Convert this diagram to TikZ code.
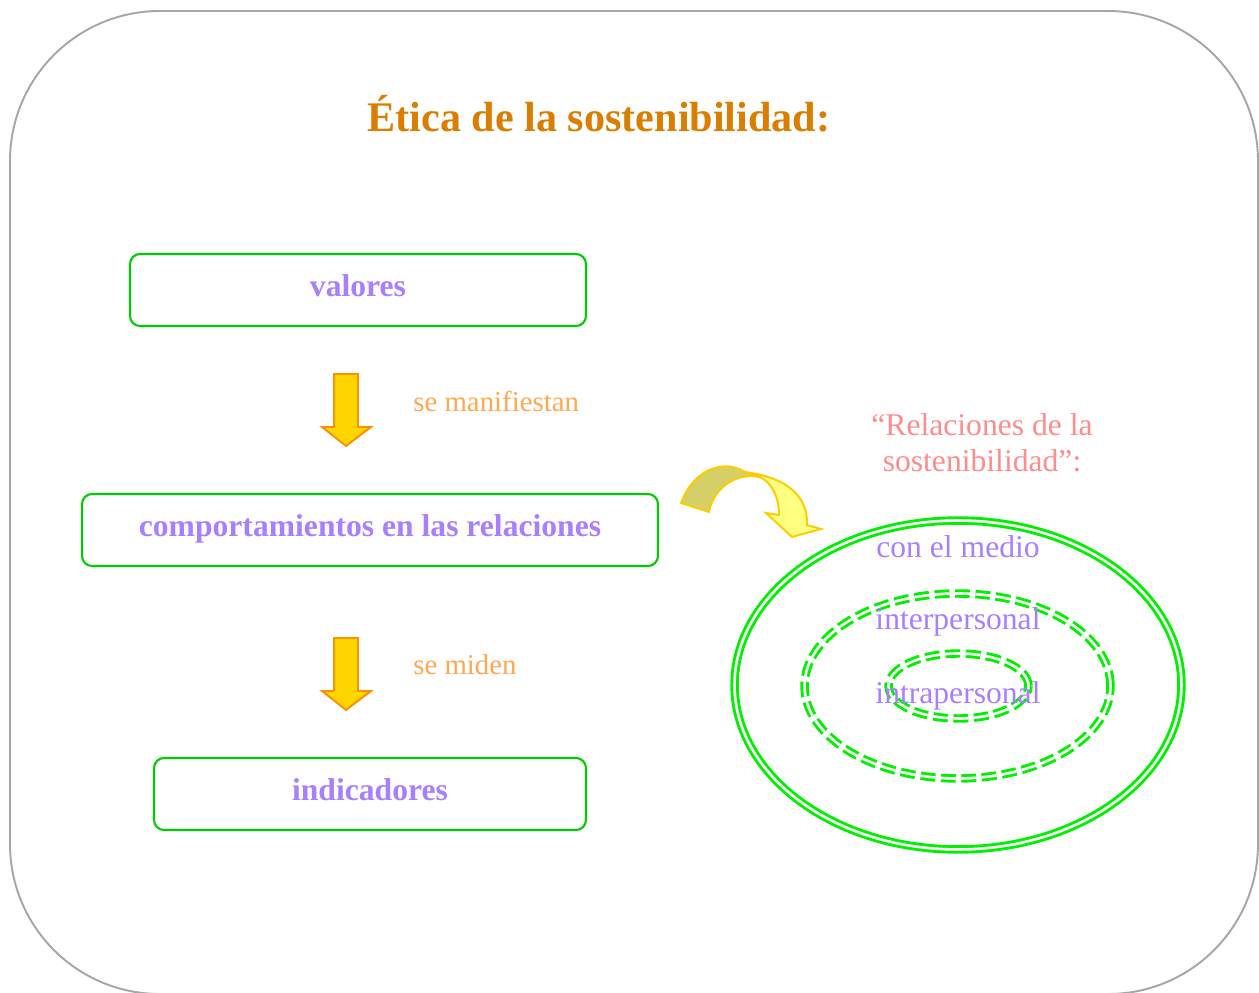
\documentclass[tikz,border=0pt]{standalone}
\usepackage{fontspec}
\setmainfont{Liberation Serif}
\definecolor{framegray}{HTML}{A6A6A6}
\definecolor{titleorange}{HTML}{D97E00}
\definecolor{boxgreen}{HTML}{00CC00}
\definecolor{ringgreen}{HTML}{00F000}
\definecolor{lilac}{HTML}{A87FFF}
\definecolor{lightorange}{HTML}{FFA850}
\definecolor{pinkish}{HTML}{FF8C8C}
\definecolor{goldfill}{HTML}{FFD500}
\definecolor{arroworange}{HTML}{FF9000}
\definecolor{olive}{HTML}{D4CF66}
\definecolor{paleyellow}{HTML}{FFFF80}
\definecolor{goldline}{HTML}{FFCC00}
\tikzset{
  box/.style={draw=boxgreen, line width=1.2pt, rounded corners=0.2cm, inner sep=0pt, text height=12.4pt, text depth=5pt},
  boxtext/.style={text=lilac, font=\fontsize{18}{20.4}\selectfont\bfseries},
  plain/.style={inner sep=0pt, font=\fontsize{18}{20.4}\selectfont},
  downarrow/.style={fill=goldfill, draw=arroworange, line width=1.1pt, line join=miter},
  ring/.style={draw=ringgreen, line width=1.65pt, double=white, double distance=1.5pt},
  dring/.style={ring, dash pattern=on 8.4pt off 3.2pt}
}
\begin{document}
\begin{tikzpicture}[x=0.02cm, y=-0.02cm]
\useasboundingbox (0,0) rectangle (1259,993);
\clip (0,0) rectangle (1259,993);
% frame
\draw[framegray, line width=1.1pt, rounded corners=3cm] (10,11) rectangle (1258,994);
% title
\node[inner sep=0pt, text=titleorange, font=\fontsize{24}{28}\selectfont\bfseries] (title) at (599,114) {Ética de la sostenibilidad:};
% boxes
\node[box, boxtext, minimum width=9.12cm, minimum height=1.44cm] (valores) at (358,290) {valores};
\node[box, boxtext, minimum width=11.52cm, minimum height=1.44cm] (comp) at (370,530) {comportamientos en las relaciones};
\node[box, boxtext, minimum width=8.64cm, minimum height=1.44cm] (ind) at (370,794) {indicadores};
% down arrows
\draw[downarrow] (334,374) -- (358,374) -- (358,427) -- (371,427) -- (346,446) -- (322,427) -- (334,427) -- cycle;
\draw[downarrow] (334,638) -- (358,638) -- (358,691) -- (371,691) -- (346,710) -- (322,691) -- (334,691) -- cycle;
\node[plain, anchor=west, text=lightorange, font=\fontsize{16.4}{19}\selectfont] (manif) at (413,401) {se manifiestan};
\node[plain, anchor=west, text=lightorange, font=\fontsize{16.4}{19}\selectfont] (miden) at (413,665) {se miden};
% relaciones label
\node[plain, text=pinkish, align=center] (rel) at (982,443) {“Relaciones de la\\sostenibilidad”:};
% curved arrow
\draw[fill=paleyellow, draw=goldline, line width=1.1pt, line join=miter]
  (745,472) .. controls (790,478) and (808,498) .. (807,525) -- (821,529) -- (792,537) -- (766,513) -- (779,515) .. controls (779,497) and (772,483) .. (760,477) -- cycle;
\draw[fill=olive, draw=goldline, line width=1.1pt, line join=round]
  (681,503) .. controls (694,468) and (725,459) .. (745,472) -- (760,477) .. controls (734,472) and (713,490) .. (709,512) -- cycle;
% rings
\draw[ring] (958,685) ellipse [x radius=4.47cm, y radius=3.29cm];
\draw[dring] (957.5,686) ellipse [x radius=3.06cm, y radius=1.85cm];
\draw[dring] (958.5,686) ellipse [x radius=1.40cm, y radius=0.65cm];
\node[plain, text=lilac] (medio) at (958,547) {con el medio};
\node[plain, text=lilac] (inter) at (958,622) {interpersonal};
\node[plain, text=lilac] (intra) at (958,696) {intrapersonal};
\end{tikzpicture}
\end{document}
